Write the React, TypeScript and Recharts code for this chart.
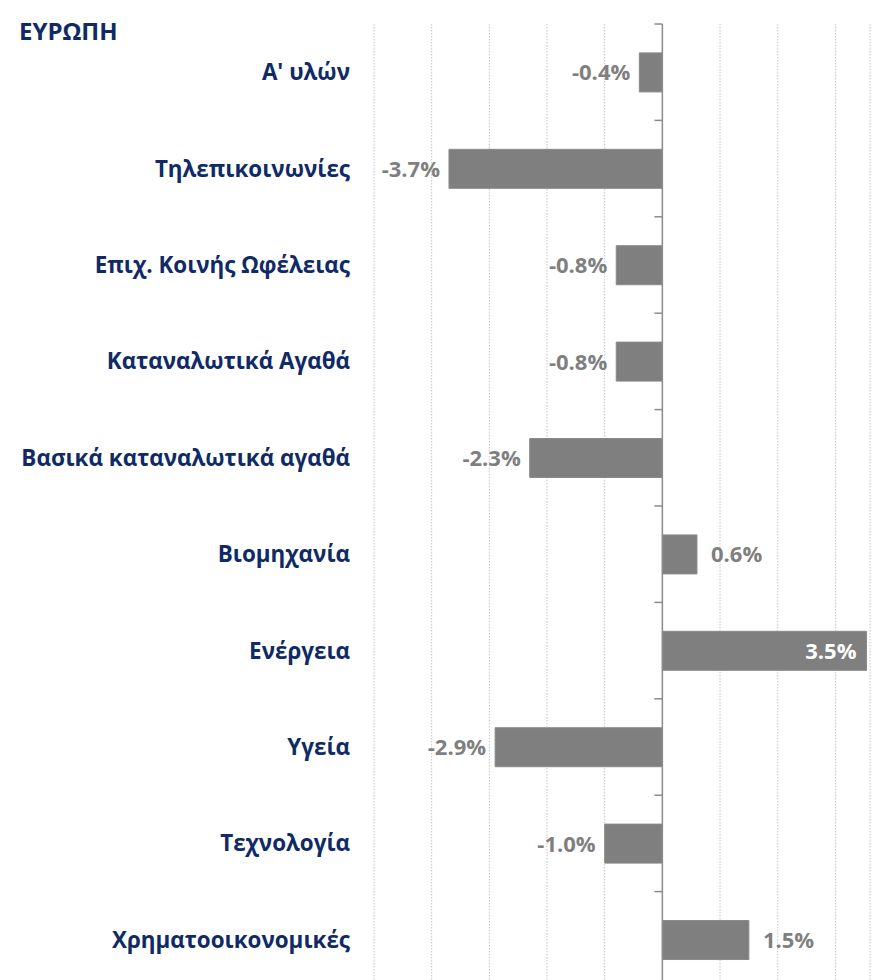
import { Bar, BarChart, CartesianGrid, LabelList, ReferenceLine, XAxis, YAxis } from 'recharts';

const sectors = [
  "Α' υλών",
  'Τηλεπικοινωνίες',
  'Επιχ. Κοινής Ωφέλειας',
  'Καταναλωτικά Αγαθά',
  'Βασικά καταναλωτικά αγαθά',
  'Βιομηχανία',
  'Ενέργεια',
  'Υγεία',
  'Τεχνολογία',
  'Χρηματοοικονομικές',
];
const changes = [-0.4, -3.7, -0.8, -0.8, -2.3, 0.6, 3.54, -2.9, -1.0, 1.5];
const gridTicks = [-5, -4, -3, -2, -1, 0, 1, 2, 3];

const data = sectors.map((name, i) => ({ name, value: changes[i] }));

const NAVY = '#0f2a66';
const GREY = '#7f7f7f';
const FONT = '"Open Sans", "Noto Sans", sans-serif';

function ZeroAxis(props: any) {
  const { x1, y1, x2, y2 } = props;
  const step = (y2 - y1) / sectors.length;
  return (
    <g>
      <line x1={x1} y1={y1} x2={x2} y2={y2} stroke="#8c8c8c" strokeWidth={1.5} />
      {sectors.map((_, i) => (
        <line key={i} x1={x1 - 8} x2={x1} y1={y1 + i * step} y2={y1 + i * step} stroke="#8c8c8c" strokeWidth={1.5} />
      ))}
      <line x1={x1 - 8} x2={x1} y1={y2} y2={y2} stroke="#8c8c8c" strokeWidth={1.5} />
    </g>
  );
}

function ValueLabel(props: any) {
  const { x, y, width, height, value } = props;
  const left = Math.min(x, x + width);
  const right = Math.max(x, x + width);
  const cy = y + height / 2;
  const text = `${value.toFixed(1)}%`;
  const common = { y: cy, dy: '0.36em', fontSize: 22, fontWeight: 700, fontFamily: FONT };
  if (value > 3) {
    return <text {...common} x={right - 10} textAnchor="end" fill="#ffffff">{text}</text>;
  }
  if (value >= 0) {
    return <text {...common} x={right + 14} textAnchor="start" fill={GREY}>{text}</text>;
  }
  return <text {...common} x={left - 9} textAnchor="end" fill={GREY}>{text}</text>;
}

export default function App() {
  return (
    <div style={{ position: 'relative', width: 879, height: 990, fontFamily: FONT }}>
      <div
        style={{
          position: 'absolute',
          left: 11,
          top: 6,
          fontSize: 24,
          fontWeight: 700,
          color: NAVY,
        }}
      >
        ΕΥΡΩΠΗ
      </div>
      <BarChart
        width={879}
        height={990}
        data={data}
        layout="vertical"
        margin={{ top: 16, right: 17, bottom: 10, left: 0 }}
        barCategoryGap="30%"
      >
        <CartesianGrid horizontal={false} stroke="#c4c4c4" strokeDasharray="1.5 1.5" />
        <XAxis type="number" domain={[-5, 3.6]} ticks={gridTicks} hide allowDataOverflow />
        <YAxis
          type="category"
          dataKey="name"
          width={366}
          axisLine={false}
          tickLine={false}
          tickSize={0}
          tickMargin={24}
          tick={{ fill: NAVY, fontSize: 22.4, fontWeight: 700, fontFamily: FONT }}
          interval={0}
        />
        <Bar dataKey="value" fill={GREY} stroke="#8a8a8a" isAnimationActive={false}>
          <LabelList dataKey="value" content={<ValueLabel />} />
        </Bar>
        <ReferenceLine x={0} shape={<ZeroAxis />} />
      </BarChart>
    </div>
  );
}
